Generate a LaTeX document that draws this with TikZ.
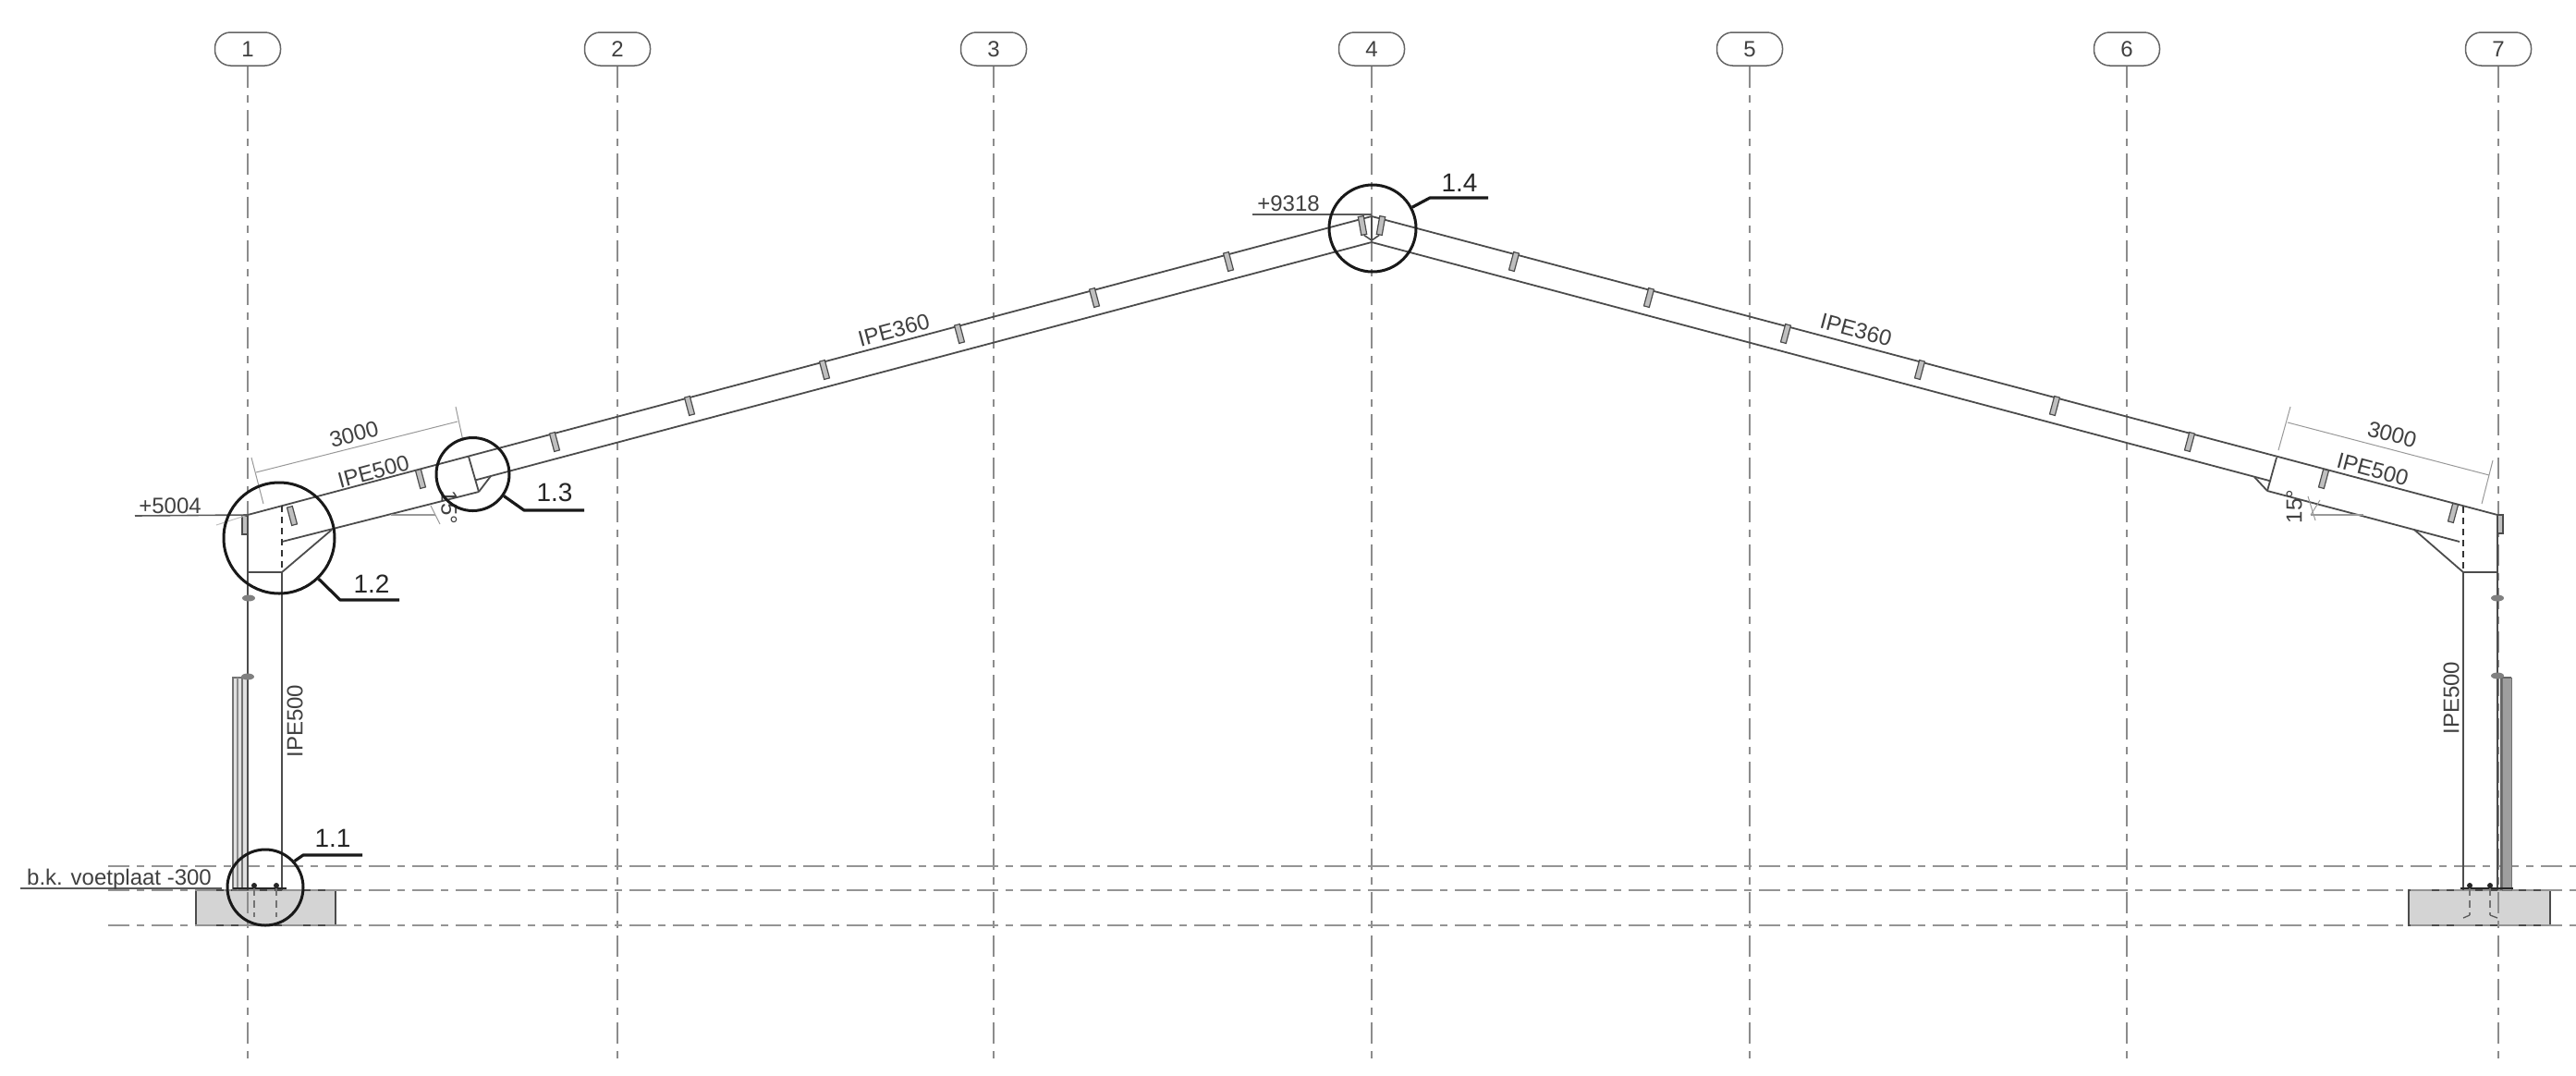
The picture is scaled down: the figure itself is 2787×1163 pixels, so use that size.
\documentclass[tikz,border=0pt]{standalone}
\usepackage{fontspec}
\setmainfont{Liberation Sans}
\tikzset{
  x=1pt,y=-1pt,
  txt/.style={font=\fontsize{24}{26}\selectfont,text=black!75,inner sep=0pt},
  det/.style={font=\fontsize{28}{30}\selectfont,text=black!85,inner sep=0pt},
  bubble/.style={draw=black!60,line width=1.5pt,rounded corners=17pt,minimum width=71pt,minimum height=36pt,inner sep=0pt,font=\fontsize{24}{26}\selectfont,text=black!75},
  gridline/.style={draw=black!45,line width=1.4pt,dash pattern=on 23pt off 8pt on 8pt off 8pt},
  levelline/.style={draw=black!42,line width=1.4pt,dash pattern=on 23pt off 8pt on 8pt off 8pt},
  steel/.style={draw=black!70,line width=1.8pt},
  thin/.style={draw=black!40,line width=1pt},
  heavy/.style={draw=black!80,line width=2.2pt},
  detcirc/.style={circle,draw=black!90,line width=3pt,inner sep=0pt},
  leader/.style={draw=black!90,line width=3.2pt,line join=round},
  purlin/.style={draw=black!70,fill=black!25,line width=1.2pt,minimum width=6pt,minimum height=20pt,inner sep=0pt},
  blob/.style={ellipse,fill=black!50,minimum width=14pt,minimum height=7pt,inner sep=0pt},
  bolt/.style={circle,fill=black!85,minimum size=6pt,inner sep=0pt},
  foot/.style={fill=black!17,draw=black!70,line width=1.4pt},
  plate/.style={fill=black!38,draw=black!55,line width=1pt},
  plateL/.style={fill=black!12,draw=black!55,line width=1.2pt}
}
\usetikzlibrary{shapes.geometric}
\begin{document}
\begin{tikzpicture}
\useasboundingbox (0,0) rectangle (2787,1163);
\fill[white] (0,0) rectangle (2787,1163);

% footings
\draw[foot] (212,963) rectangle (363,1001);
\draw[foot] (2606,963) rectangle (2759,1001);

% grid
\foreach \n/\x in {1/268,2/668,3/1075,4/1484,5/1893,6/2301,7/2703}{
  \node[bubble] (g\n) at (\x,53) {\n};
  \coordinate (ge\n) at (\x,1152);
  \draw[gridline] (g\n) -- (ge\n);
}
% level lines
\coordinate (la) at (117,937); \coordinate (lb) at (2787,937);
\coordinate (lc) at (117,963); \coordinate (ld) at (2787,963);
\coordinate (le) at (117,1001); \coordinate (lf) at (2787,1001);
\draw[levelline] (la) -- (lb);
\draw[levelline] (lc) -- (ld);
\draw[levelline] (le) -- (lf);

% frame key points
\coordinate (ridgeT) at (1484,234);
\coordinate (ridgeB) at (1484,262);
\coordinate (eaveL) at (268,557);
\coordinate (eaveR) at (2702,557);
\coordinate (spL) at (507,494);
\coordinate (spLb) at (518,532);
\coordinate (spLc) at (531,515);
\coordinate (spLd) at (514,519.5);
\coordinate (spR) at (2463,495);
\coordinate (spRb) at (2453,531);
\coordinate (spRc) at (2439,516);
\coordinate (spRd) at (2457,520.5);
\coordinate (colLt) at (305,547);
\coordinate (colLm) at (305,586);
\coordinate (colLp) at (305,619);
\coordinate (colRt) at (2665,548);
\coordinate (colRm) at (2661,586);
\coordinate (colRp) at (2665,619);
\coordinate (plL) at (268,619);
\coordinate (plR) at (2702,619);
\coordinate (hL) at (359,573);
\coordinate (hR) at (2612,573);

% rafters
\draw[steel] (eaveL) -- (ridgeT) -- (eaveR);
\draw[steel] (spLd) -- (ridgeB) -- (spRd);
\draw[steel] (colLm) -- (spLb);
\draw[steel] (colRm) -- (spRb);
\draw[steel] (spLb) -- (spLc);
\draw[steel] (spRb) -- (spRc);
\draw[steel] (spL) -- (spLb);
\draw[steel] (spR) -- (spRb);
\draw[steel] (colLp) -- (hL);
\draw[steel] (colRp) -- (hR);
\draw[steel] (plL) -- (colLp);
\draw[steel] (plR) -- (colRp);

% wall sheeting
\draw[plateL] (252,733) rectangle (268,963);
\draw[draw=black!45,line width=1.2pt] (257,733) -- (257,963);
\draw[draw=black!55,line width=1.2pt] (262,733) -- (262,963);
\draw[plate] (2707,733) rectangle (2717,963);
\draw[draw=black!60,line width=1.2pt] (2702,733) -- (2717,733);
\draw[draw=black!60,line width=1.2pt] (2706,733) -- (2706,963);

% columns
\draw[steel] (eaveL) -- (268,963);
\draw[steel] (305,619) -- (305,963);
\draw[steel] (eaveR) -- (2702,963);
\draw[steel] (2665,619) -- (2665,963);
\draw[heavy,dash pattern=on 7pt off 5pt] (colLt) -- (colLp);
\draw[heavy,dash pattern=on 7pt off 5pt] (colRt) -- (colRp);

% base plates and bolts
\draw[draw=black!85,line width=2.4pt] (252,961) -- (310,961);
\draw[draw=black!85,line width=2.4pt] (2662,961) -- (2719,961);
\node[bolt] (bl1) at (275,958) {};
\node[bolt] (bl2) at (299,958) {};
\node[bolt] (br1) at (2672,958) {};
\node[bolt] (br2) at (2694,958) {};
\coordinate (bl1e) at (275,992); \coordinate (bl2e) at (299,992);
\coordinate (br1e) at (2672,990); \coordinate (br2e) at (2694,990);
\draw[draw=black!55,line width=1.3pt,dash pattern=on 8pt off 5pt] (bl1) -- (bl1e);
\draw[draw=black!55,line width=1.3pt,dash pattern=on 8pt off 5pt] (bl2) -- (bl2e);
\draw[draw=black!55,line width=1.3pt,dash pattern=on 8pt off 5pt] (br1) -- (br1e);
\draw[draw=black!55,line width=1.3pt,dash pattern=on 8pt off 5pt] (br2) -- (br2e);
\draw[draw=black!65,line width=1.3pt] (br1e) -- (2665,993);
\draw[draw=black!65,line width=1.3pt] (br2e) -- (2702,993);

% blobs on columns
\node[blob] (bx1) at (269,647) {};
\node[blob] (bx2) at (268,732) {};
\node[blob] (bx3) at (2702,647) {};
\node[blob] (bx4) at (2702,731) {};

% purlins
\foreach \x/\y [count=\i] in {316/558,455/518,600/478,746/439,892/400,1038/361,1184/322,1329/283}{
  \node[purlin,rotate=15] (pl\i) at (\x,\y) {};
}
\foreach \x/\y [count=\i] in {1638/283,1784/322,1932/361,2077/400,2223/439,2369/478,2514/518,2654/555}{
  \node[purlin,rotate=-15] (pr\i) at (\x,\y) {};
}
\node[purlin] (pe1) at (265,568) {};
\node[purlin] (pe2) at (2705,567) {};
% ridge connection
\node[purlin,rotate=10] (rc1) at (1474,244) {};
\node[purlin,rotate=-10] (rc2) at (1494,244) {};
\coordinate (rm) at (1484,260);
\draw[draw=black!70,line width=2.4pt] (ridgeT) -- (rm);
\draw[draw=black!70,line width=1.6pt] (rc1.south) -- (rm) -- (rc2.south);

% dimensions
\coordinate (dl1) at (277,511); \coordinate (dl2) at (495,456);
\draw[thin] (dl1) -- (dl2);
\draw[thin] (272,495) -- (285,545);
\draw[thin] (493,440) -- (501,477);
\draw[thin,draw=black!25] (234,568) -- (eaveL);
\coordinate (dr1) at (2475,457); \coordinate (dr2) at (2693,514);
\draw[thin] (dr1) -- (dr2);
\draw[thin] (2478,440) -- (2465,487);
\draw[thin] (2697,498) -- (2685,545);
% angle marks
\draw[thin,line width=1.4pt] (423,557) -- (471,557);
\draw[thin] (466,547) -- (476,567);
\draw[thin,line width=1.4pt] (2500,557) -- (2557,557);
\draw[thin] (2497,537) -- (2505,563);
\draw[thin] (2500,557) -- (2510,541);

% level labels
\coordinate (l1a) at (146,558);
\draw[draw=black!65,line width=1.6pt] (l1a) -- (eaveL);
\coordinate (l2a) at (1355,232);
\draw[draw=black!65,line width=1.6pt] (l2a) -- (1484,232);
\coordinate (l3a) at (22,961); \coordinate (l3b) at (240,961);
\draw[draw=black!65,line width=1.6pt] (l3a) -- (l3b);

% texts
\node[txt] (t5004) at (184,547) {+5004};
\node[txt] (t9318) at (1394,220) {+9318};
\node[txt] (tbk) at (129,951) {b.k. voetplaat -300};
\node[txt,rotate=15] (t3000l) at (383,470) {3000};
\node[txt,rotate=-15] (t3000r) at (2588,470) {3000};
\node[txt,rotate=15] (ti5l) at (404,510) {IPE500};
\node[txt,rotate=-15] (ti5r) at (2567,508) {IPE500};
\node[txt,rotate=15] (ti3l) at (967,357) {IPE360};
\node[txt,rotate=-15] (ti3r) at (2008,357) {IPE360};
\node[txt,rotate=90] (ticl) at (319,780) {IPE500};
\node[txt,rotate=90] (ticr) at (2652,755) {IPE500};
\node[txt,rotate=90] (ta15r) at (2482,548) {15°};
\node[txt,rotate=-90] (ta15l) at (486,549) {15°};

% detail circles
\node[detcirc,minimum size=120pt] (c12) at (302,582) {};
\node[detcirc,minimum size=79pt] (c13) at (511.5,513) {};
\node[detcirc,minimum size=82pt] (c11) at (287,960) {};
\node[detcirc,minimum size=94pt] (c14) at (1485,247) {};
% leaders
\coordinate (k12) at (368,649); \coordinate (e12) at (432,649);
\coordinate (k13) at (567,552); \coordinate (e13) at (632,552);
\coordinate (k11) at (328,925); \coordinate (e11) at (392,925);
\coordinate (k14) at (1547,214); \coordinate (e14) at (1610,214);
\draw[leader] (c12.-46) -- (k12) -- (e12);
\draw[leader] (c13.-35) -- (k13) -- (e13);
\draw[leader] (c11.42) -- (k11) -- (e11);
\draw[leader] (c14.28) -- (k14) -- (e14);
\node[det] (d12) at (402,632) {1.2};
\node[det] (d13) at (600,533) {1.3};
\node[det] (d11) at (360,907) {1.1};
\node[det] (d14) at (1579,198) {1.4};
\end{tikzpicture}
\end{document}
